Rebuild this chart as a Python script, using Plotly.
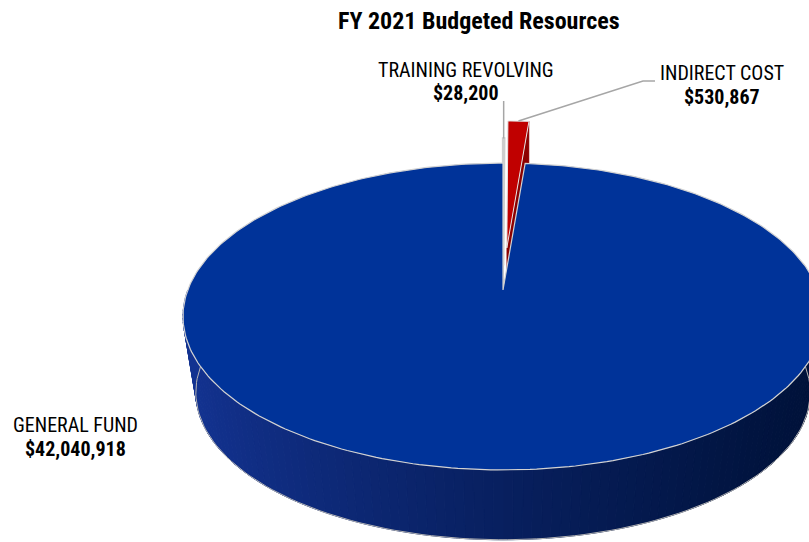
import numpy as np
import plotly.graph_objects as go

# ---- data ----
categories = ["TRAINING REVOLVING", "INDIRECT COST", "GENERAL FUND"]
values = [28200, 530867, 42040918]
explode = [0.16, 0.275, 0.0]
top_colors = ["#d4d4d4", "#c00000", "#003399"]
side_colors = ["#a6a6a6", "#8c0000", None]
edge_colors = ["#cdcdcd", "#e6e6e6", "#d2d2d2"]
edge_widths = [2.5, 1.0, 1.2]

# label anchors (x, name line y, value line y) in pixel space
label_pos = [(466, 70, 93), (722, 73, 97), (75, 425, 449)]
title_text = "FY 2021 Budgeted Resources"

# ---- pie geometry (pixel space, y down) ----
W, H = 809, 542
PX, PY = 503, 290          # apex of the top face
AP, BP, P = 315.2, 148.9, 0.1726   # perspective projection of the top disc
S_BOT, PY_BOT = 0.96, 367  # bottom disc: scale and apex y
EX_A, EX_B = 320, 153      # screen-space explode scale
FONT = "Liberation Sans Narrow, Arial Narrow, Roboto Condensed, Arial, sans-serif"


def disc(t0, t1, n=60, scale=1.0, py=PY):
    t = np.radians(np.linspace(t0, t1, n))
    u, v = np.sin(t), -np.cos(t)
    w = 1 - P * v
    return PX + scale * AP * u / w, py + scale * BP * v / w


def lerp_color(x):
    f = np.clip((x - 183) / (809 - 183), 0, 1) ** 0.8
    c0 = np.array([20, 52, 148])
    c1 = np.array([0, 18, 58])
    c = (c0 + (c1 - c0) * f).astype(int)
    return f"rgb({c[0]},{c[1]},{c[2]})"


total = sum(values)
angles = np.cumsum([0] + [v / total * 360 for v in values])

fig = go.Figure()
leader_start = []

# exploded small slices (drawn first; the big slice overlaps them)
for i in range(2):
    t0, t1 = angles[i], angles[i + 1]
    tm = np.radians((t0 + t1) / 2)
    dx = explode[i] * EX_A * np.sin(tm)
    dy = -explode[i] * EX_B * np.cos(tm)
    ax, ay = disc(t0, t1, 8)
    ax, ay = ax + dx, ay + dy
    px, py = PX + dx, PY + dy
    mx, my = disc((t0 + t1) / 2, (t0 + t1) / 2, 1)
    leader_start.append((mx[0] + dx, my[0] + dy))
    # radial cut face on the clockwise side
    depth = PY_BOT - PY
    sx = [px, ax[-1], ax[-1], px, px]
    sy = [py, ay[-1], ay[-1] + depth, py + depth, py]
    fig.add_trace(go.Scatter(x=sx, y=sy, mode="lines", fill="toself",
                             fillcolor=side_colors[i],
                             line=dict(color=side_colors[i], width=0.5),
                             hoverinfo="skip", showlegend=False))
    fig.add_trace(go.Scatter(x=np.r_[px, ax, px], y=np.r_[py, ay, py],
                             mode="lines", fill="toself",
                             fillcolor=top_colors[i],
                             line=dict(color=edge_colors[i], width=edge_widths[i]),
                             hoverinfo="skip", showlegend=False))

# front side wall of the large slice, shaded left to right
edges = np.linspace(90, 270, 121)
for k in range(len(edges) - 1):
    a0, a1 = edges[k], edges[k + 1]
    tx, ty = disc(a0, a1, 4)
    bx, by = disc(a0, a1, 4, S_BOT, PY_BOT)
    col = lerp_color((tx.mean() + bx.mean()) / 2)
    fig.add_trace(go.Scatter(x=np.r_[tx, bx[::-1], tx[0]],
                             y=np.r_[ty, by[::-1], ty[0]],
                             mode="lines", fill="toself", fillcolor=col,
                             line=dict(color=col, width=1),
                             hoverinfo="skip", showlegend=False))

# outline of the lower edge
bx, by = disc(90, 270, 120, S_BOT, PY_BOT)
fig.add_trace(go.Scatter(x=bx, y=by, mode="lines",
                         line=dict(color="#b4b4b4", width=1),
                         hoverinfo="skip", showlegend=False))

# top face of the large slice
gx, gy = disc(angles[2], angles[3], 360)
fig.add_trace(go.Scatter(x=np.r_[PX, gx, PX], y=np.r_[PY, gy, PY],
                         mode="lines", fill="toself", fillcolor=top_colors[2],
                         line=dict(color=edge_colors[2], width=edge_widths[2]),
                         hoverinfo="skip", showlegend=False))

# leader lines
lx, ly = leader_start[0]
fig.add_trace(go.Scatter(x=[lx, lx], y=[ly, label_pos[0][2] + 8], mode="lines",
                         line=dict(color="#a6a6a6", width=1.5),
                         hoverinfo="skip", showlegend=False))
lx, ly = leader_start[1]
fig.add_trace(go.Scatter(x=[lx, 643, 655], y=[ly, 81, 81], mode="lines",
                         line=dict(color="#a6a6a6", width=1.5),
                         hoverinfo="skip", showlegend=False))

# labels
for name, val, (x, y1, y2) in zip(categories, values, label_pos):
    fig.add_annotation(x=x, y=y1, text=name, showarrow=False,
                       font=dict(family=FONT, size=20, color="#000000"))
    fig.add_annotation(x=x, y=y2, text=f"<b>${val:,}</b>", showarrow=False,
                       font=dict(family=FONT, size=20, color="#000000"))

fig.add_annotation(x=479, y=21, text=f"<b>{title_text}</b>", showarrow=False,
                   font=dict(family=FONT, size=24, color="#000000"))

fig.update_layout(
    width=W, height=H, autosize=False,
    margin=dict(l=0, r=0, t=0, b=0),
    paper_bgcolor="white", plot_bgcolor="white",
    xaxis=dict(range=[0, W], visible=False, fixedrange=True),
    yaxis=dict(range=[H, 0], visible=False, fixedrange=True),
    showlegend=False,
)

fig.write_html("out.html")
